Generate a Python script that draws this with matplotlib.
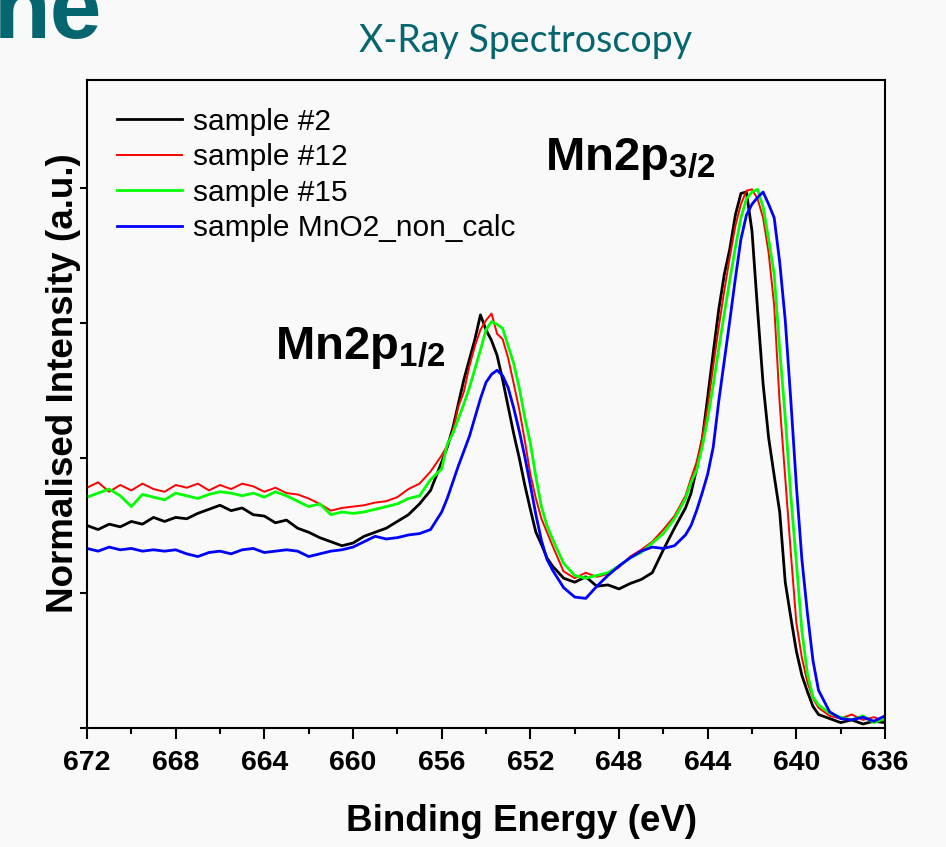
import numpy as np
import matplotlib.pyplot as plt
from matplotlib.ticker import MultipleLocator

plt.rcParams['font.family'] = ['Liberation Sans', 'DejaVu Sans']
plt.rcParams['mathtext.fontset'] = 'custom'
plt.rcParams['mathtext.rm'] = 'Liberation Sans'
plt.rcParams['mathtext.bf'] = 'Liberation Sans:bold'

# binding energy grid (eV), finer around the peaks
energy = [672, 671.5, 671, 670.5, 670, 669.5, 669, 668.5, 668, 667.5, 667, 666.5,
          666, 665.5, 665, 664.5, 664, 663.5, 663, 662.5, 662, 661.5, 661, 660.5,
          660, 659.5, 659, 658.5, 658, 657.5, 657, 656.5,
          656, 655.75, 655.5, 655.25, 655, 654.75, 654.5, 654.25, 654, 653.75, 653.5,
          653.25, 653, 652.75, 652.5, 652.25, 652, 651.75, 651.5, 651.25, 651,
          650.5, 650, 649.5, 649, 648.5, 648, 647.5, 647, 646.5, 646, 645.5,
          645, 644.75, 644.5, 644.25, 644, 643.75, 643.5, 643.25, 643, 642.75, 642.5,
          642.25, 642, 641.75, 641.5, 641.25, 641, 640.75, 640.5, 640.25, 640,
          639.75, 639.5, 639.25, 639,
          638.5, 638, 637.5, 637, 636.5, 636]

sample_2 = [1.50, 1.47, 1.51, 1.49, 1.53, 1.51, 1.56, 1.53, 1.56, 1.55, 1.59, 1.62,
            1.65, 1.61, 1.63, 1.58, 1.57, 1.52, 1.54, 1.48, 1.45, 1.41, 1.38, 1.35,
            1.37, 1.42, 1.45, 1.48, 1.53, 1.58, 1.66, 1.76,
            1.97, 2.08, 2.22, 2.40, 2.58, 2.73, 2.88, 3.06, 2.95, 2.87, 2.76,
            2.58, 2.38, 2.18, 2.00, 1.80, 1.62, 1.45, 1.36, 1.26, 1.20,
            1.11, 1.08, 1.12, 1.05, 1.06, 1.03, 1.07, 1.10, 1.15, 1.32, 1.48,
            1.63, 1.74, 1.92, 2.13, 2.45, 2.78, 3.10, 3.36, 3.55, 3.80, 3.96,
            3.97, 3.68, 3.10, 2.55, 2.15, 1.87, 1.60, 1.08, 0.82, 0.57,
            0.39, 0.27, 0.16, 0.10,
            0.07, 0.04, 0.06, 0.03, 0.05, 0.04]

sample_12 = [1.78, 1.82, 1.75, 1.80, 1.76, 1.81, 1.77, 1.75, 1.80, 1.78, 1.81, 1.76,
             1.80, 1.77, 1.81, 1.79, 1.75, 1.78, 1.74, 1.73, 1.70, 1.66, 1.61, 1.63,
             1.64, 1.65, 1.67, 1.68, 1.71, 1.77, 1.81, 1.90,
             2.02, 2.09, 2.20, 2.38, 2.49, 2.68, 2.83, 2.95, 3.02, 3.07, 2.92,
             2.88, 2.74, 2.55, 2.36, 2.13, 1.88, 1.70, 1.55, 1.45, 1.35,
             1.16, 1.11, 1.15, 1.12, 1.14, 1.19, 1.27, 1.32, 1.38, 1.47, 1.57,
             1.72, 1.85, 1.97, 2.15, 2.38, 2.68, 2.97, 3.24, 3.49, 3.72, 3.88,
             3.98, 3.99, 3.92, 3.78, 3.52, 3.13, 2.40, 1.85, 1.30, 0.78,
             0.52, 0.34, 0.22, 0.15,
             0.09, 0.07, 0.10, 0.06, 0.08, 0.05]

sample_15 = [1.71, 1.74, 1.77, 1.72, 1.64, 1.73, 1.71, 1.69, 1.74, 1.72, 1.70, 1.73,
             1.75, 1.74, 1.72, 1.74, 1.71, 1.75, 1.72, 1.68, 1.64, 1.66, 1.58, 1.60,
             1.59, 1.60, 1.62, 1.64, 1.66, 1.70, 1.72, 1.84,
             1.92, 2.10, 2.18, 2.29, 2.40, 2.52, 2.66, 2.80, 2.95, 3.01, 2.99,
             2.96, 2.83, 2.70, 2.52, 2.30, 2.11, 1.86, 1.64, 1.50, 1.40,
             1.22, 1.13, 1.11, 1.13, 1.15, 1.20, 1.26, 1.30, 1.37, 1.44, 1.55,
             1.70, 1.82, 1.91, 2.08, 2.29, 2.54, 2.81, 3.07, 3.32, 3.56, 3.78,
             3.92, 3.97, 3.99, 3.86, 3.62, 3.36, 2.80, 2.30, 1.72, 1.23,
             0.72, 0.40, 0.23, 0.17,
             0.11, 0.08, 0.06, 0.09, 0.04, 0.07]

sample_mno2 = [1.33, 1.31, 1.34, 1.32, 1.33, 1.31, 1.32, 1.31, 1.32, 1.29, 1.27, 1.30,
               1.31, 1.29, 1.32, 1.33, 1.30, 1.31, 1.32, 1.31, 1.27, 1.29, 1.31, 1.32,
               1.34, 1.38, 1.42, 1.40, 1.41, 1.43, 1.44, 1.47,
               1.60, 1.70, 1.82, 1.94, 2.05, 2.16, 2.30, 2.44, 2.56, 2.62, 2.65,
               2.61, 2.52, 2.37, 2.20, 2.01, 1.80, 1.58, 1.39, 1.25, 1.17,
               1.04, 0.97, 0.96, 1.05, 1.13, 1.20, 1.26, 1.31, 1.34, 1.33, 1.35,
               1.43, 1.50, 1.61, 1.74, 1.88, 2.08, 2.42, 2.72, 3.02, 3.33, 3.62,
               3.80, 3.88, 3.93, 3.97, 3.88, 3.78, 3.45, 3.02, 2.43, 1.80,
               1.25, 0.85, 0.50, 0.28,
               0.12, 0.07, 0.06, 0.08, 0.05, 0.09]

labels = ['sample #2', 'sample #12', 'sample #15', 'sample MnO2_non_calc']
colors = ['#000000', '#ff0000', '#00ff00', '#0000ff']
widths = [2.0, 1.4, 2.0, 2.0]
series = [sample_2, sample_12, sample_15, sample_mno2]

bg = '#f9f9f9'
teal = '#06666f'

fig = plt.figure(figsize=(9.46, 8.47), dpi=100, facecolor=bg)
ax = fig.add_axes([87/946, 1 - 728/847, 798/946, 648/847], facecolor=bg)

for y, lab, c, w in zip(series, labels, colors, widths):
    ax.plot(energy, y, color=c, lw=w, label=lab)

ax.set_xlim(672, 636)
ax.set_ylim(0, 4.8)
ax.xaxis.set_major_locator(MultipleLocator(4))
ax.xaxis.set_minor_locator(MultipleLocator(2))
ax.yaxis.set_major_locator(MultipleLocator(1))
ax.set_yticklabels([])
ax.tick_params(axis='x', which='major', direction='out', length=8, width=1.5,
               labelsize=20.5, pad=8)
ax.tick_params(axis='x', which='minor', direction='out', length=4, width=1.5)
ax.tick_params(axis='y', which='major', direction='out', length=5, width=1.5)
for lbl in ax.get_xticklabels():
    lbl.set_fontweight('bold')
for s in ax.spines.values():
    s.set_linewidth(1.5)

ax.set_xlabel('Binding Energy (eV)', fontsize=26.5, fontweight='bold')
ax.xaxis.set_label_coords(0.544, -0.118)
ax.set_ylabel('Normalised Intensity (a.u.)', fontsize=26.5, fontweight='bold')
ax.yaxis.set_label_coords(-0.008, 0.532)

ax.legend(loc='upper left', bbox_to_anchor=(0.037, 0.957), frameon=False,
          fontsize=21.5, handlelength=2.2, handletextpad=0.35, labelspacing=0.25,
          borderpad=0, borderaxespad=0)

ax.text(651.35, 4.13, r'$\mathbf{Mn2p_{3/2}}$', fontsize=34, ha='left', va='baseline')
ax.text(663.5, 2.73, r'$\mathbf{Mn2p_{1/2}}$', fontsize=34, ha='left', va='baseline')

fig.text(-6/946, 1 - 38/847, 'ne', fontsize=67, fontweight='bold', color=teal,
         ha='left', va='baseline')
fig.text(526/946, 1 - 41/847, 'X-Ray Spectroscopy', fontsize=27, color=teal,
         family=['Lato', 'DejaVu Sans'], ha='center', va='center')

fig.savefig('out.png', dpi=100, facecolor=bg)
